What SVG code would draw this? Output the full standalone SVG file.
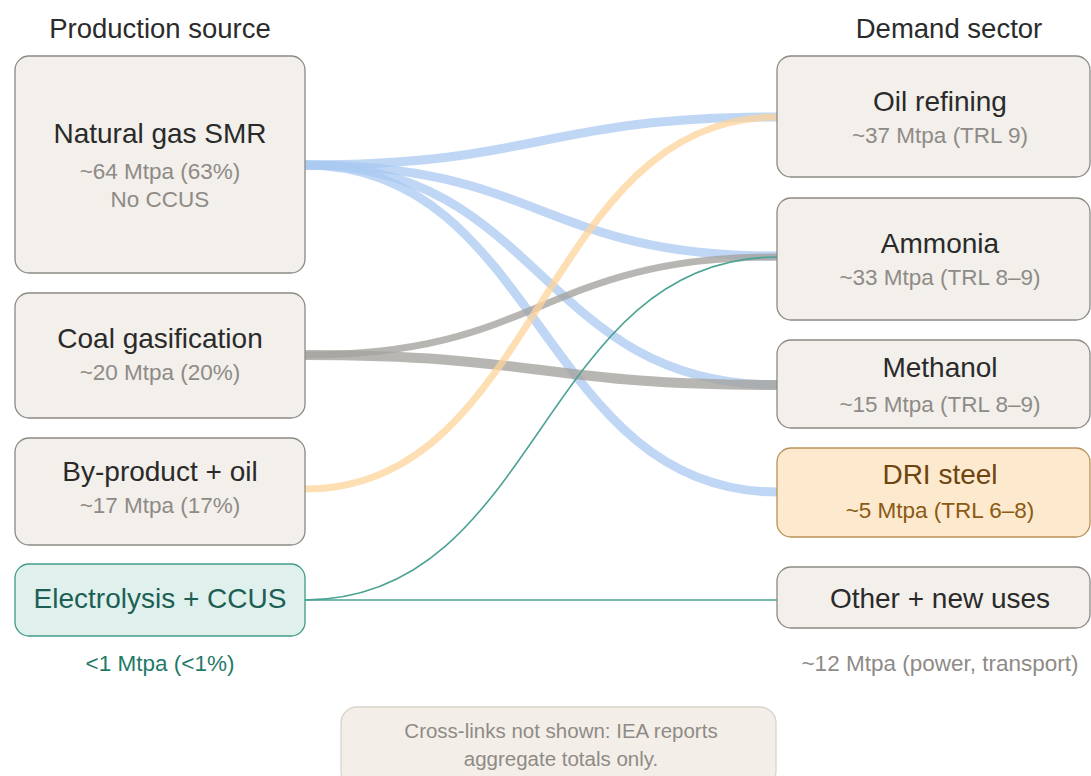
<svg xmlns="http://www.w3.org/2000/svg" width="1091" height="776" viewBox="0 0 1091 776">
  <style>
    text { font-family: "Liberation Sans", Arial, sans-serif; text-anchor: middle; }
    .hdr { font-size: 27.5px; fill: #2b2b2b; }
    .title { font-size: 28px; fill: #2a2a2a; }
    .sub { font-size: 22.5px; fill: #8e8b87; }
    .box { fill: #f3efea; stroke: #8d8984; stroke-width: 1.3; }
    .green { fill: #e0f1ed; stroke: #3f9a89; stroke-width: 1.3; }
    .amber { fill: #fde9cd; stroke: #b99258; stroke-width: 1.3; }
    .link { fill: none; stroke-linecap: butt; }
    .smr { stroke: #a9c9f1; stroke-width: 9; opacity: 0.75; }
    .coal { stroke: #a6a49f; opacity: 0.8; }
    .byp { stroke: #fdd399; stroke-width: 7; opacity: 0.75; }
    .ely { stroke: #4aa393; stroke-width: 1.6; }
    .note { fill: #f4eee8; stroke: #d9d3cc; stroke-width: 1.3; }
    .notetxt { font-size: 20.5px; fill: #8e8b87; }
  </style>

  <!-- column headings -->
  <text class="hdr" x="160" y="38">Production source</text>
  <text class="hdr" x="949" y="38">Demand sector</text>

  <!-- flows from sources to sectors -->
  <g id="connectors">
    <path class="link smr" d="M305,165 C541,165 541,117 777,117"/>
    <path class="link smr" d="M305,165 C541,165 541,256 777,256"/>
    <path class="link smr" d="M305,165 C541,165 541,385 777,385"/>
    <path class="link smr" d="M305,165 C541,165 541,492 777,492"/>
    <path class="link coal" stroke-width="7" d="M305,355 C541,355 541,257 777,257"/>
    <path class="link coal" stroke-width="10" d="M305,355 C541,355 541,385 777,385"/>
    <path class="link byp" d="M305,489 C541,489 541,117 777,117"/>
    <path class="link ely" d="M305,600 C541,600 541,257 777,257"/>
    <path class="link ely" d="M305,600 L777,600"/>
  </g>

  <!-- production sources -->
  <g id="src-smr">
    <rect class="box" x="15" y="56" width="290" height="217" rx="14"/>
    <text class="title" x="160" y="143">Natural gas SMR</text>
    <text class="sub" x="160" y="179">~64 Mtpa (63%)</text>
    <text class="sub" x="160" y="207">No CCUS</text>
  </g>
  <g id="src-coal">
    <rect class="box" x="15" y="293" width="290" height="125" rx="14"/>
    <text class="title" x="160" y="348">Coal gasification</text>
    <text class="sub" x="160" y="380">~20 Mtpa (20%)</text>
  </g>
  <g id="src-byproduct">
    <rect class="box" x="15" y="438" width="290" height="107" rx="14"/>
    <text class="title" x="160" y="481">By-product + oil</text>
    <text class="sub" x="160" y="513">~17 Mtpa (17%)</text>
  </g>
  <g id="src-electrolysis">
    <rect class="green" x="15" y="564" width="290" height="72" rx="14"/>
    <text class="title" x="160" y="608" style="fill:#1d5f55">Electrolysis + CCUS</text>
    <text class="sub" x="160" y="671" style="fill:#1f7a69">&lt;1 Mtpa (&lt;1%)</text>
  </g>

  <!-- demand sectors -->
  <g id="dem-refining">
    <rect class="box" x="777" y="56" width="313" height="121" rx="14"/>
    <text class="title" x="940" y="111">Oil refining</text>
    <text class="sub" x="940" y="143">~37 Mtpa (TRL 9)</text>
  </g>
  <g id="dem-ammonia">
    <rect class="box" x="777" y="198" width="313" height="122" rx="14"/>
    <text class="title" x="940" y="253">Ammonia</text>
    <text class="sub" x="940" y="285">~33 Mtpa (TRL 8–9)</text>
  </g>
  <g id="dem-methanol">
    <rect class="box" x="777" y="340" width="313" height="88" rx="14"/>
    <text class="title" x="940" y="377">Methanol</text>
    <text class="sub" x="940" y="412">~15 Mtpa (TRL 8–9)</text>
  </g>
  <g id="dem-dri">
    <rect class="amber" x="777" y="448" width="313" height="89" rx="14"/>
    <text class="title" x="940" y="484" style="fill:#6e4510">DRI steel</text>
    <text class="sub" x="940" y="518" style="fill:#8a5a16">~5 Mtpa (TRL 6–8)</text>
  </g>
  <g id="dem-other">
    <rect class="box" x="777" y="567" width="313" height="61" rx="14"/>
    <text class="title" x="940" y="608">Other + new uses</text>
    <text class="sub" x="940" y="671">~12 Mtpa (power, transport)</text>
  </g>

  <!-- footnote -->
  <g id="note">
    <rect class="note" x="341" y="707" width="435" height="80" rx="16"/>
    <text class="notetxt" x="561" y="738">Cross-links not shown: IEA reports</text>
    <text class="notetxt" x="561" y="766">aggregate totals only.</text>
  </g>
</svg>
